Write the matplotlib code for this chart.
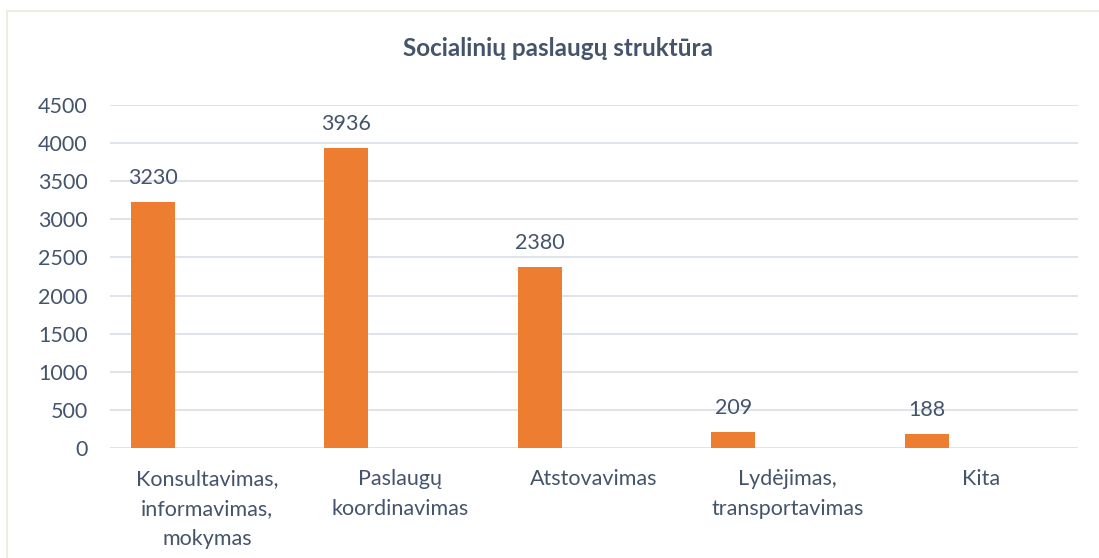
import matplotlib.pyplot as plt
import numpy as np
from matplotlib.patches import Rectangle

# chart data
categories = ["Konsultavimas,\ninformavimas,\nmokymas", "Paslaugų\nkoordinavimas",
              "Atstovavimas", "Lydėjimas,\ntransportavimas", "Kita"]
values = [3230, 3936, 2380, 209, 188]

plt.rcParams['font.family'] = ['Lato', 'DejaVu Sans']
text_color = '#44546A'

fig = plt.figure(figsize=(10.99, 5.58), dpi=100)
ax = fig.add_axes([0.1001, 0.197, 0.8809, 0.615])

x = np.arange(len(categories))
bars = ax.bar(x - 0.28, values, width=0.227, color='#ED7D31', zorder=3)

for xi, v in zip(x, values):
    ax.annotate(str(v), (xi - 0.28, v), xytext=(0, 10), textcoords='offset points',
                ha='center', va='bottom', fontsize=15.5, color=text_color)

ax.set_xlim(-0.5, len(categories) - 0.5)
ax.set_ylim(0, 4500)
ax.set_yticks(np.arange(0, 4501, 500))
ax.set_xticks(x)
ax.set_xticklabels(categories, fontsize=15.5, color=text_color, linespacing=1.63)
ax.tick_params(axis='y', labelsize=15.5, labelcolor=text_color, length=0, pad=16)
ax.tick_params(axis='x', length=0, pad=15)
ax.grid(axis='y', color='#D9DEE6', linewidth=1.2, zorder=0)
for s in ax.spines.values():
    s.set_visible(False)

fig.text(0.508, 0.913, "Socialinių paslaugų struktūra", ha='center', va='center',
         fontsize=17.5, fontweight='bold', color=text_color)

# chart frame
fig.patches.append(Rectangle((7 / 1099, -0.05), 1.1, 1 - 11 / 558 + 0.05,
                             transform=fig.transFigure, fill=False,
                             edgecolor='#EEECE1', linewidth=1.5))

fig.savefig('out.png', dpi=100, facecolor='white')
